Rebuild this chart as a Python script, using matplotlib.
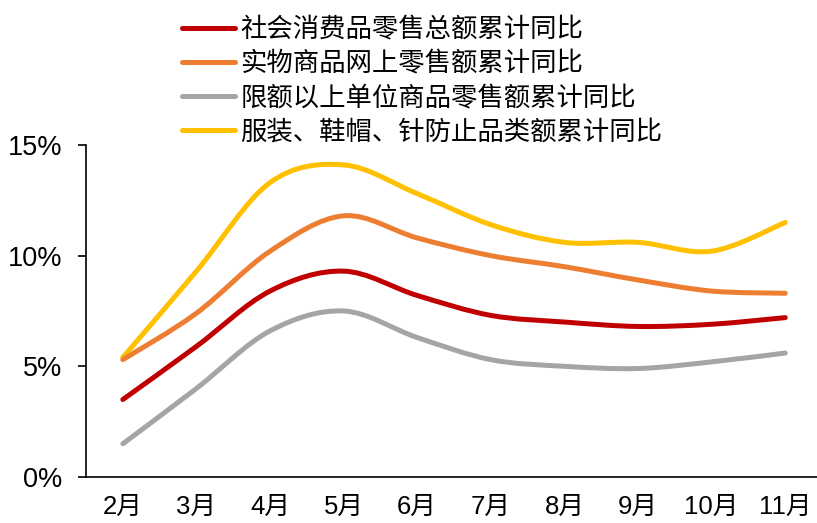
import numpy as np
import matplotlib
matplotlib.use("Agg")
import matplotlib.pyplot as plt
from matplotlib.path import Path
from matplotlib.patches import PathPatch
from matplotlib.lines import Line2D
from matplotlib.ticker import FuncFormatter

plt.rcParams['font.family'] = ['Liberation Sans', 'Noto Sans CJK SC', 'DejaVu Sans']

months = ['2月', '3月', '4月', '5月', '6月', '7月', '8月', '9月', '10月', '11月']

# cumulative yoy growth, %
retail_total = [3.5, 5.9, 8.4, 9.3, 8.2, 7.3, 7.0, 6.8, 6.9, 7.2]
online_goods = [5.3, 7.4, 10.2, 11.8, 10.8, 10.0, 9.5, 8.9, 8.4, 8.3]
above_quota = [1.5, 4.0, 6.6, 7.5, 6.3, 5.3, 5.0, 4.9, 5.2, 5.6]
apparel = [5.4, 9.3, 13.3, 14.1, 12.8, 11.4, 10.6, 10.6, 10.2, 11.5]

names = ['社会消费品零售总额累计同比', '实物商品网上零售额累计同比',
         '限额以上单位商品零售额累计同比', '服装、鞋帽、针防止品类额累计同比']
colors = ['#C00000', '#ED7D31', '#A5A5A5', '#FFC000']
series = [retail_total, online_goods, above_quota, apparel]


def smooth_path(x, y):
    # Catmull-Rom style cubic bezier through the points
    pts = np.column_stack([x, y]).astype(float)
    n = len(pts)
    verts = [pts[0]]
    codes = [Path.MOVETO]
    for i in range(n - 1):
        p0 = pts[i - 1] if i > 0 else pts[i]
        p1 = pts[i]
        p2 = pts[i + 1]
        p3 = pts[i + 2] if i + 2 < n else pts[i + 1]
        c1 = p1 + (p2 - p0) / 6.0
        c2 = p2 - (p3 - p1) / 6.0
        verts += [c1, c2, p2]
        codes += [Path.CURVE4] * 3
    return Path(verts, codes)


fig = plt.figure(figsize=(8.17, 5.23), dpi=100)
ax = fig.add_axes([0.1053, 0.088, 0.9009, 0.6348])

x = np.arange(len(months))
lw = 3.6
# draw back to front so the red line sits on top
for vals, c in list(zip(series, colors))[::-1]:
    patch = PathPatch(smooth_path(x, vals), facecolor='none', edgecolor=c,
                      lw=lw, capstyle='round', joinstyle='round')
    ax.add_patch(patch)

ax.set_xlim(-0.5, len(months) - 0.5)
ax.set_ylim(0, 15)
ax.set_yticks([0, 5, 10, 15])
ax.yaxis.set_major_formatter(FuncFormatter(lambda v, p: f'{v:.0f}%'))
ax.set_xticks(x)
ax.set_xticklabels(months)

for s in ['top', 'right']:
    ax.spines[s].set_visible(False)
for s in ['left', 'bottom']:
    ax.spines[s].set_linewidth(1.2)
    ax.spines[s].set_color('black')

ax.tick_params(axis='y', length=6, width=1.2, pad=11, labelsize=19.5)
ax.tick_params(axis='x', length=0, pad=13, labelsize=18.5)

handles = [Line2D([], [], color=c, lw=lw, solid_capstyle='round') for c in colors]
fig.legend(handles, names, loc='upper left', bbox_to_anchor=(0.21, 0.99),
           frameon=False, handlelength=2.0, handletextpad=0.2,
           labelspacing=0.27, borderaxespad=0,
           prop={'family': ['Noto Sans CJK SC'], 'size': 19})

fig.savefig('out.png', dpi=100)
